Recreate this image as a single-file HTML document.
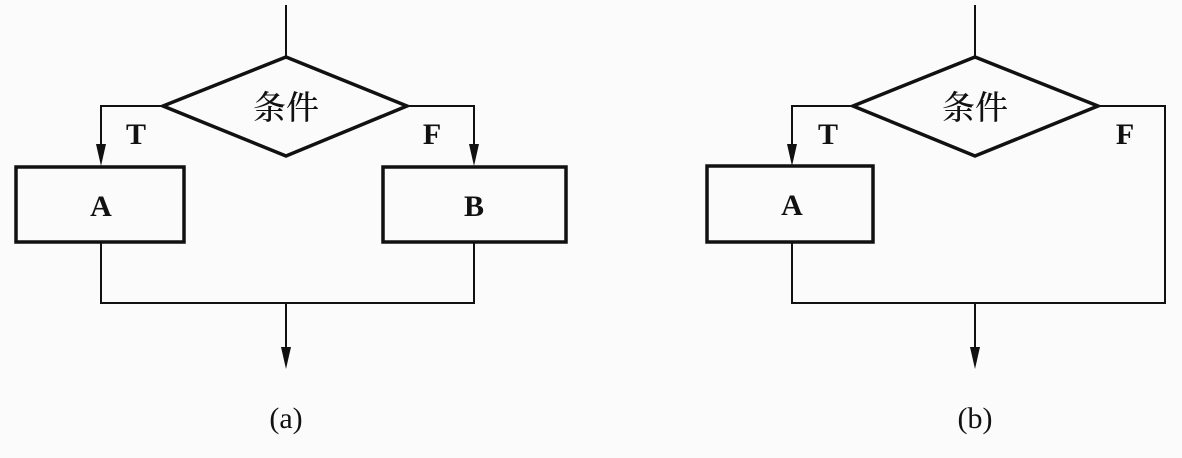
<!DOCTYPE html>
<html><head><meta charset="utf-8"><style>
html,body{margin:0;padding:0;background:#fbfbfb;}
svg{display:block}
text{font-family:"Liberation Serif","Noto Serif CJK SC",serif;fill:#111}
</style></head><body>
<svg width="1182" height="458" viewBox="0 0 1182 458" xmlns="http://www.w3.org/2000/svg">
<g stroke="#111" fill="none">
<line x1="286" y1="5" x2="286" y2="57" stroke-width="2"/>
<polygon points="286,57 407,106 286,156 163,106" stroke-width="3.5" fill="#fbfbfb"/>
<polyline points="163,106 101,106 101,145" stroke-width="2"/>
<path d="M96,144 L106,144 L101,166 Z" fill="#111" stroke="none"/>
<polyline points="407,106 474,106 474,145" stroke-width="2"/>
<path d="M469,144 L479,144 L474,166 Z" fill="#111" stroke="none"/>
<rect x="16" y="167" width="168" height="75" stroke-width="3.5"/>
<rect x="383" y="167" width="183" height="75" stroke-width="3.5"/>
<polyline points="101,243 101,303 474,303 474,243" stroke-width="2"/>
<line x1="286" y1="303" x2="286" y2="348" stroke-width="2"/>
<path d="M281,347 L291,347 L286,369 Z" fill="#111" stroke="none"/>
<line x1="975" y1="5" x2="975" y2="57" stroke-width="2"/>
<polygon points="975,57 1098,106 975,156 853,106" stroke-width="3.5" fill="#fbfbfb"/>
<polyline points="853,106 792,106 792,145" stroke-width="2"/>
<path d="M787,144 L797,144 L792,166 Z" fill="#111" stroke="none"/>
<polyline points="1098,106 1165,106 1165,303 792,303 792,243" stroke-width="2"/>
<rect x="707" y="166" width="166" height="76" stroke-width="3.5"/>
<line x1="975" y1="303" x2="975" y2="348" stroke-width="2"/>
<path d="M970,347 L980,347 L975,369 Z" fill="#111" stroke="none"/>
</g>
<g font-size="33" text-anchor="middle" font-weight="bold">
<text x="286" y="119" font-family="Noto Sans CJK SC, sans-serif" font-weight="500">条件</text>
<text x="975" y="119" font-family="Noto Sans CJK SC, sans-serif" font-weight="500">条件</text>
</g>
<g font-size="30" text-anchor="middle" font-weight="bold">
<text x="136" y="144">T</text>
<text x="432" y="144">F</text>
<text x="828" y="144">T</text>
<text x="1125" y="144">F</text>
<text x="101" y="216">A</text>
<text x="474" y="216">B</text>
<text x="792" y="215">A</text>
</g>
<g font-size="30" text-anchor="middle">
<text x="286" y="428">(a)</text>
<text x="975" y="428">(b)</text>
</g>
</svg>
</body></html>
